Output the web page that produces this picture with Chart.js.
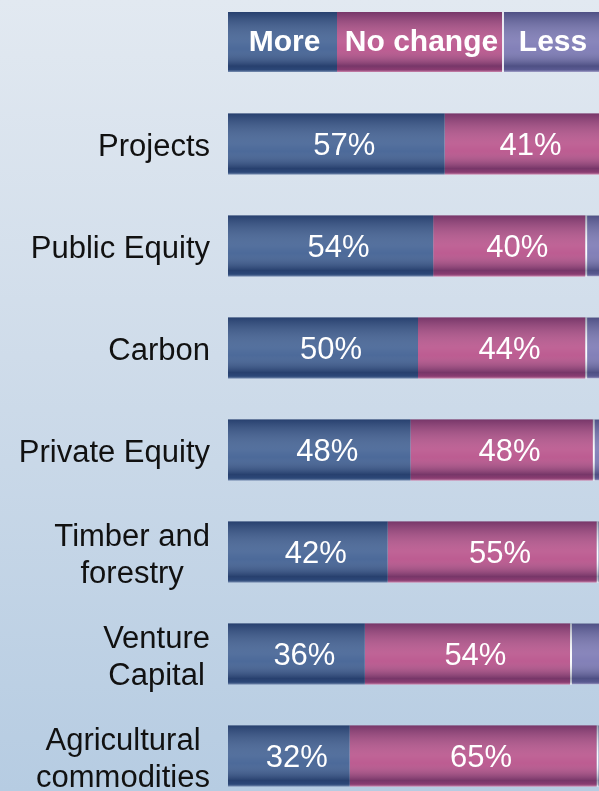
<!DOCTYPE html>
<html lang="en">
<head>
    <title>Investment appetite by asset class</title>
    <script src="https://cdn.jsdelivr.net/npm/chart.js@4.4.0/dist/chart.umd.min.js"></script>
    <style>
        html, body { margin: 0; padding: 0; width: 599px; height: 791px; overflow: hidden; }
        body { background: linear-gradient(to bottom, #e2e9f1 0%, #cfdcea 45%, #b6cce2 100%); }
        #wrap { position: absolute; left: 0; top: 0; }
    </style>
</head>
<body>
    <div id="wrap"><canvas id="appetiteChart" width="640" height="807"></canvas></div>

<script>
    /* Asset classes (multi-line names are split into arrays) */
    const categories = [
        ["Projects"],
        ["Public Equity"],
        ["Carbon"],
        ["Private Equity"],
        ["Timber and", "forestry"],
        ["Venture", "Capital"],
        ["Agricultural", "commodities"]
    ];

    /* Share of respondents per answer, in % */
    const seriesNames = ["More", "No change", "Less"];
    const moreValues = [57, 54, 50, 48, 42, 36, 32];
    const noChangeValues = [41, 40, 44, 48, 55, 54, 65];
    const lessValues = [2, 6, 6, 4, 3, 10, 3];

    const seriesColors = ["#38598e", "#b54a85", "#7572b0"];
    const labelFont = '"Liberation Sans", Arial, sans-serif';

    /* Vertical light/dark banding laid over each bar */
    function shade(c, x, y, w, h){
        let g = c.createLinearGradient(0, y, 0, y + h);
        g.addColorStop(0, 'rgba(10,20,55,0.36)');
        g.addColorStop(0.5, 'rgba(255,255,255,0.14)');
        g.addColorStop(0.62, 'rgba(255,255,255,0.10)');
        g.addColorStop(0.9, 'rgba(10,20,55,0.36)');
        g.addColorStop(0.96, 'rgba(10,20,55,0.26)');
        g.addColorStop(1, 'rgba(255,255,255,0.35)');
        c.fillStyle = g;
        c.fillRect(x, y, w, h);
    }

    /* Shading on the bars, then the percentages inside the segments */
    const barDecor = {
        id: 'barDecor',
        afterDatasetsDraw(chart){
            const c = chart.ctx;
            const area = chart.chartArea;
            const first = chart.getDatasetMeta(0).data;
            const last = chart.getDatasetMeta(chart.data.datasets.length - 1).data;
            c.save();
            c.beginPath();
            c.rect(area.left, area.top, area.right - area.left, area.bottom - area.top);
            c.clip();
            first.forEach((el, i) => {
                shade(c, el.base, el.y - el.height / 2, last[i].x - el.base, el.height);
            });
            c.fillStyle = '#ffffff';
            c.font = '31px ' + labelFont;
            c.textAlign = 'center';
            c.textBaseline = 'middle';
            for(let d = 0; d < 2; d++){
                const meta = chart.getDatasetMeta(d);
                meta.data.forEach((el, i) => {
                    const v = chart.data.datasets[d].data[i];
                    c.fillText(v + '%', (el.base + el.x) / 2 + 8, el.y + 2);
                });
            }
            c.restore();
        }
    };

    /* Category names on the left, lines centred inside a right-aligned block */
    const sideLabels = {
        id: 'sideLabels',
        afterDraw(chart){
            const c = chart.ctx;
            const rows = chart.getDatasetMeta(0).data;
            const right = 210;
            const lineH = 37;
            c.save();
            c.fillStyle = '#111111';
            c.font = '31px ' + labelFont;
            c.textAlign = 'center';
            c.textBaseline = 'middle';
            categories.forEach((lines, i) => {
                const w = Math.max(...lines.map(t => c.measureText(t).width));
                const cx = right - w / 2;
                const y0 = rows[i].y + 3 + (lines.length > 1 ? 1 : 0) - (lines.length - 1) * lineH / 2;
                lines.forEach((t, k) => c.fillText(t, cx, y0 + k * lineH));
            });
            c.restore();
        }
    };

    /* Key drawn as one segmented bar above the chart */
    const keyBar = {
        id: 'keyBar',
        afterDraw(chart){
            const c = chart.ctx;
            const widths = [109, 165, 110];
            const top = 12, h = 60;
            let x = chart.chartArea.left;
            c.save();
            c.font = 'bold 30px ' + labelFont;
            c.textAlign = 'center';
            c.textBaseline = 'middle';
            seriesNames.forEach((name, i) => {
                c.fillStyle = seriesColors[i];
                c.fillRect(x, top, widths[i], h);
                shade(c, x, top, widths[i], h);
                if(i == 2){
                    c.fillStyle = 'rgba(255,255,255,0.85)';
                    c.fillRect(x, top, 2, h);
                }
                c.fillStyle = '#ffffff';
                c.fillText(name, x + widths[i] / 2 + (i == 2 ? -4 : 2), top + h / 2 + 1);
                x += widths[i];
            });
            c.restore();
        }
    };

    let ctx = document.getElementById('appetiteChart').getContext('2d');
    let appetiteChart = new Chart(ctx, {
        type: 'bar',
        data: {
            labels: categories,
            datasets: [
                { label: seriesNames[0], data: moreValues, backgroundColor: seriesColors[0] },
                { label: seriesNames[1], data: noChangeValues, backgroundColor: seriesColors[1] },
                {
                    label: seriesNames[2], data: lessValues, backgroundColor: seriesColors[2],
                    borderColor: 'rgba(255,255,255,0.9)',
                    borderWidth: { left: 2, right: 0, top: 0, bottom: 0 },
                    borderSkipped: false
                }
            ]
        },
        options: {
            indexAxis: 'y',
            responsive: false,
            animation: false,
            datasets: { bar: { barPercentage: 0.6, categoryPercentage: 1.0 } },
            layout: { padding: { left: 228, right: 32, top: 93, bottom: 0 } },
            scales: {
                x: { stacked: true, min: 0, max: 100, display: false },
                y: { stacked: true, display: false }
            },
            plugins: {
                legend: { display: false },
                tooltip: { enabled: false }
            }
        },
        plugins: [barDecor, sideLabels, keyBar]
    });
</script>
</body>
</html>
